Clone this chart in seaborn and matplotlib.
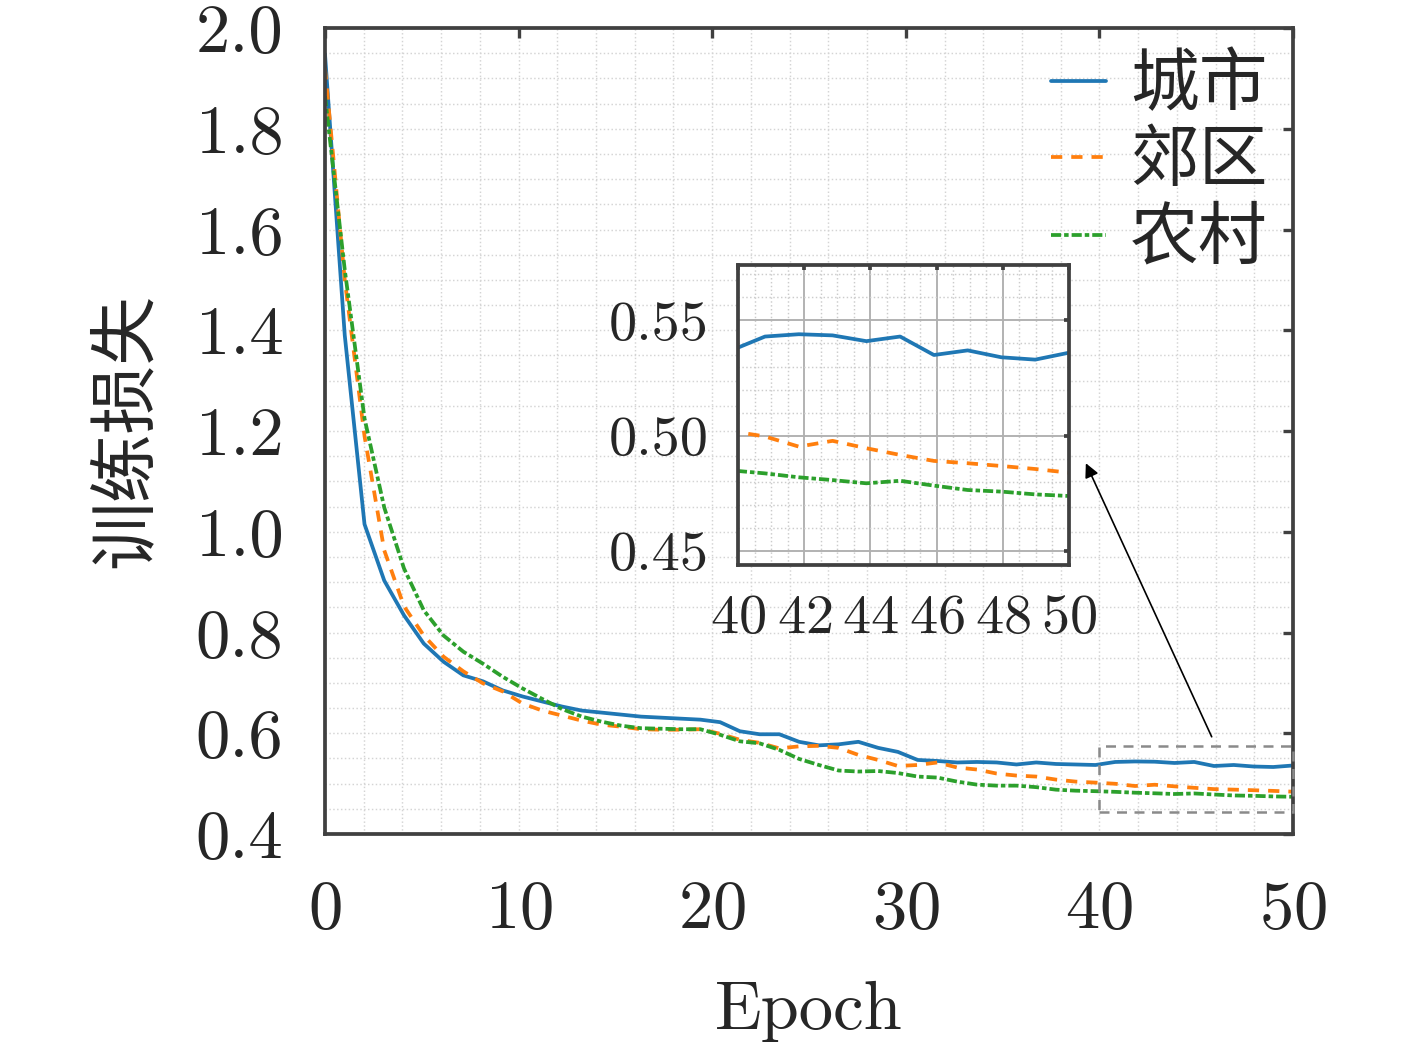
import matplotlib
matplotlib.use("Agg")
import matplotlib.pyplot as plt
import matplotlib.patches as patches
from matplotlib.ticker import MultipleLocator, FormatStrFormatter
import numpy as np
import seaborn as sns

# epochs: 50 logged points spread over 0..50
epochs = np.linspace(0, 50, 50)

city = [1.948, 1.39, 1.015, 0.903, 0.834, 0.778, 0.742, 0.715, 0.703, 0.685,
        0.673, 0.663, 0.653, 0.645, 0.641, 0.637, 0.633, 0.631, 0.629, 0.627,
        0.622, 0.604, 0.598, 0.598, 0.583, 0.576, 0.578, 0.583, 0.571, 0.563,
        0.547, 0.545, 0.542, 0.543, 0.542, 0.538, 0.542, 0.539, 0.538, 0.537,
        0.543, 0.544, 0.5435, 0.541, 0.543, 0.535, 0.537, 0.534, 0.533, 0.536]

suburb = [1.92, 1.50, 1.19, 0.963, 0.852, 0.794, 0.752, 0.723, 0.699, 0.683,
          0.659, 0.645, 0.635, 0.625, 0.617, 0.613, 0.608, 0.607, 0.607, 0.608,
          0.599, 0.587, 0.581, 0.570, 0.574, 0.575, 0.571, 0.557, 0.547, 0.535,
          0.537, 0.542, 0.532, 0.528, 0.520, 0.516, 0.514, 0.508, 0.504, 0.502,
          0.4997, 0.4953, 0.4978, 0.4946, 0.4917, 0.4891, 0.4881, 0.4869, 0.4856, 0.4840]

rural = [1.865, 1.52, 1.225, 1.048, 0.927, 0.844, 0.794, 0.762, 0.738, 0.712,
         0.689, 0.668, 0.648, 0.633, 0.623, 0.615, 0.610, 0.609, 0.608, 0.608,
         0.597, 0.584, 0.580, 0.567, 0.549, 0.537, 0.526, 0.524, 0.525, 0.521,
         0.514, 0.512, 0.504, 0.498, 0.496, 0.496, 0.493, 0.488, 0.486, 0.485,
         0.4837, 0.4820, 0.4808, 0.4794, 0.4805, 0.4784, 0.4765, 0.4758, 0.4746, 0.4739]

labels = ["城市", "郊区", "农村"]
colors = ["#1f77b4", "#ff7f0e", "#2ca02c"]
styles = ["-", (0, (3.0, 2.4)), (0, (2.7, 0.8, 1.2, 0.8))]

sns.set_style("white")
plt.rcParams["font.family"] = ["cmr10", "Noto Sans CJK SC"]
plt.rcParams["axes.unicode_minus"] = False
plt.rcParams["axes.formatter.use_mathtext"] = True

edge = "#404040"
lw = 0.9

fig = plt.figure(figsize=(1417 / 300, 1046 / 300), dpi=300)
ax = fig.add_axes([325 / 1417, 1 - 834 / 1046, 968 / 1417, 806 / 1046])

for vals, lab, c, ls in zip([city, suburb, rural], labels, colors, styles):
    sns.lineplot(x=epochs, y=vals, ax=ax, color=c, linestyle=ls, lw=lw, label=lab)

ax.set_xlim(0, 50)
ax.set_ylim(0.4, 2.0)
ax.xaxis.set_major_locator(MultipleLocator(10))
ax.xaxis.set_minor_locator(MultipleLocator(2))
ax.yaxis.set_major_locator(MultipleLocator(0.2))
ax.yaxis.set_minor_locator(MultipleLocator(0.05))
ax.yaxis.set_major_formatter(FormatStrFormatter("%.1f"))
ax.grid(which="both", linestyle=":", color="#d4d4d4", lw=0.35)
ax.tick_params(which="major", direction="in", length=2.5, width=0.8, color=edge,
               top=True, right=True, labelsize=16.5, pad=10)
ax.tick_params(axis="x", which="major", pad=11)
ax.tick_params(which="minor", length=0)
ax.set_xlabel("Epoch", fontsize=16.5, labelpad=9.5)
ax.set_ylabel("训练损失", fontsize=16.5, labelpad=9)
for s in ax.spines.values():
    s.set_color(edge)
    s.set_linewidth(0.9)

leg = ax.legend(loc="upper right", frameon=False, fontsize=16.5, handlelength=0.8,
                handletextpad=0.35, labelspacing=0.2, borderpad=0.12, borderaxespad=0.25)

# zoom box and arrow
rect = patches.Rectangle((40, 0.444), 10, 0.13, fill=False, ec="#8a8a8a",
                         lw=0.6, ls=(0, (4, 3)), clip_on=False, zorder=5)
ax.add_patch(rect)
ax.annotate("", xy=(39.3, 1.136), xytext=(45.8, 0.593),
            arrowprops=dict(arrowstyle="-|>", color="black", lw=0.4,
                            mutation_scale=7, shrinkA=0, shrinkB=0))

# inset
ins = fig.add_axes([738 / 1417, 1 - 565 / 1046, 331 / 1417, 300 / 1046])
ins.set_facecolor("white")
for vals, c, ls in zip([city, suburb, rural], colors, styles):
    sns.lineplot(x=epochs, y=vals, ax=ins, color=c, linestyle=ls, lw=lw)
ins.set_xlim(40, 50)
ins.set_ylim(0.444, 0.574)
ins.xaxis.set_major_locator(MultipleLocator(2))
ins.xaxis.set_minor_locator(MultipleLocator(0.5))
ins.yaxis.set_major_locator(MultipleLocator(0.05))
ins.yaxis.set_minor_locator(MultipleLocator(0.01))
ins.yaxis.set_major_formatter(FormatStrFormatter("%.2f"))
ins.grid(which="major", linestyle="-", color="#b0b0b0", lw=0.45)
ins.grid(which="minor", linestyle=":", color="#cccccc", lw=0.35)
ins.tick_params(which="major", direction="in", length=1.2, width=0.9, color=edge,
                top=True, right=True, labelsize=13.5, pad=7)
ins.tick_params(which="minor", length=0)
ins.set_xlabel("")
ins.set_ylabel("")
for s in ins.spines.values():
    s.set_color(edge)
    s.set_linewidth(0.9)

fig.savefig("out.png", dpi=300)
